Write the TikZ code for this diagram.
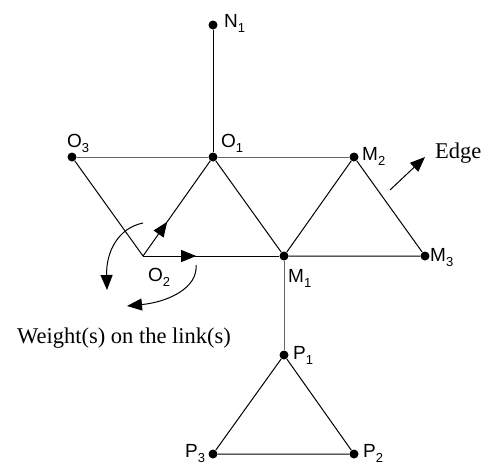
\documentclass[tikz,border=0pt]{standalone}
\usepackage{fontspec}
\setmainfont{Liberation Serif}
\setsansfont{Liberation Sans}
\usepackage{tikz}
\usetikzlibrary{arrows.meta,decorations.markings}
\newcommand{\lowidx}[1]{\raisebox{-5pt}{\fontsize{13}{14}\selectfont #1}}
\tikzset{dot/.style={circle,fill=black,inner sep=0pt,minimum size=9pt},
lbl/.style={anchor=base west,inner sep=0pt,font=\sffamily\fontsize{19}{21}\selectfont},
txt/.style={anchor=base west,inner sep=0pt,font=\fontsize{22.5}{26}\selectfont},
link/.style={line width=1pt,black},
glink/.style={line width=1pt,black!60},
tip/.style={-{Triangle[length=15pt,width=12pt]},line width=1pt},
midtip/.style={postaction={decorate},decoration={markings,
  mark=at position #1 with {\arrow{Triangle[length=15pt,width=12pt]}}}}}

\begin{document}
\begin{tikzpicture}[x=1pt,y=-1pt]
\useasboundingbox (0,0) rectangle (489,464);
% nodes with their labels
\foreach \n/\i/\x/\y/\lx/\ly in {N/1/213/25/224/27,O/1/213/157/221/147,O/3/72/157/67/147,
M/2/354/157/362/160,M/1/284/256/288/282,M/3/425/256/430/261,
P/1/284/355/293/359,P/2/354/454/363/457,P/3/213/454/185/457} {
\node[dot] (\n\i) at (\x,\y) {};
\node[lbl] (\n\i-lbl) at (\lx,\ly) {\n\lowidx{\i}};
}
\coordinate (O2) at (143,256);
\node[lbl] (O2-lbl) at (148,281) {O\lowidx{2}};
% links
\draw[link] (N1) -- (O1);
\draw[glink] (O3) -- (O1) -- (M2);
\draw[link] (O3) -- (O2);
\draw[link,midtip=0.36] (O2) -- (O1);
\draw[link,midtip=0.39] (O2) -- (M1);
\draw[link] (O1) -- (M1) -- (M2) -- (M3) -- (M1);
\draw[glink] (M1) -- (P1);
\draw[link] (P1) -- (P2) -- (P3) -- (P1);
% weights
\coordinate (w1) at (143,223);
\coordinate (w2) at (107,290);
\coordinate (w3) at (196,265);
\coordinate (w4) at (127,306);
\draw[tip] (w1) .. controls (118,228) and (106,252) .. (w2);
\draw[tip] (w3) .. controls (198,288) and (168,302) .. (w4);
\node[txt] (weight) at (17,343) {Weight(s) on the link(s)};
% edge
\coordinate (e1) at (390,190);
\coordinate (e2) at (425,157);
\draw[tip] (e1) -- (e2);
\node[txt] (edge) at (435,158) {Edge};
\end{tikzpicture}
\end{document}
